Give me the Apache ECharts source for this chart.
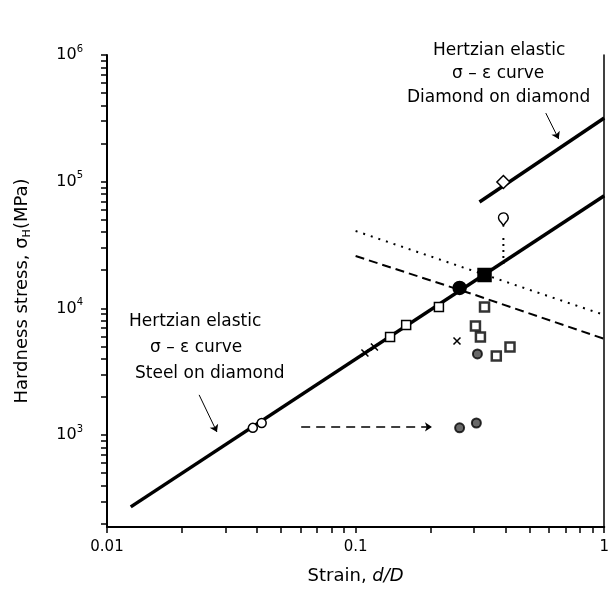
<!DOCTYPE html>
<html lang="en">
<head>
  <meta charset="UTF-8">
  <title>Hardness stress vs strain</title>
  <script src="https://cdn.jsdelivr.net/npm/echarts@6/dist/echarts.min.js"></script>
  <style>
    body { margin: 0; background: #fff; }
    #chart { width: 612px; height: 603px; }
  </style>
</head>
<body>
  <div id="chart"></div>
  <script>
    // strain d/D, hardness stress MPa
    const steelLine = [[0.01246, 271], [1, 77400]];
    const diamondLine = [[0.315, 69200], [1, 318000]];
    const dottedCurve = [[0.1, 40800], [0.306, 19400], [1, 8870]];
    const dashedCurve = [[0.1, 25900], [0.301, 12800], [1, 5740]];
    const openCircles = [[0.0386, 1140], [0.0419, 1245]];
    const openSquares = [[0.1376, 5950], [0.1597, 7400], [0.2163, 10260]];
    const crosses = [[0.109, 4450], [0.119, 4960], [0.2557, 5530]];
    const boxSquares = [[0.330, 10260], [0.3034, 7260], [0.3177, 5950], [0.4178, 4960], [0.368, 4210]];
    const darkCircles = [[0.309, 4370], [0.262, 1140], [0.306, 1245]];
    const filledCircle = [[0.262, 14500]];
    const filledSquare = [[0.330, 18350]];
    const openDiamond = [[0.393, 99500]];
    const openPin = [[0.393, 44000]];
    const pinDrop = [[0.393, 36000], [0.393, 22000]];

    const xLabels = [0.01, 0.1, 1];
    const yLabels = [1e3, 1e4, 1e5, 1e6];
    const steps = [1, 2, 3, 4, 5, 6, 7, 8, 9];

    // arrows: [from, to]
    const arrowDiamond = [[0.582, 348000], [0.656, 217000]];
    const arrowSteel = [[0.02347, 2075], [0.02768, 1057]];
    const arrowDashed = [[0.0604, 1159], [0.2028, 1159]];

    const font = 'DejaVu Sans';

    let xTicks = [];
    [0.01, 0.1].forEach(d => steps.forEach(s => xTicks.push(d * s)));
    xTicks.push(1);
    let yTicks = [];
    [100, 1e3, 1e4, 1e5].forEach(d => steps.forEach(s => { if (d * s >= 188) yTicks.push(d * s); }));
    yTicks.push(1e6);

    let myChart = echarts.init(document.getElementById('chart'));

    function scatter(data, symbol, size, fill, extra) {
      return Object.assign({
        type: 'scatter',
        data: data,
        symbol: symbol,
        symbolSize: size,
        itemStyle: { color: fill, borderColor: '#000', borderWidth: 1.5, opacity: 1 },
        z: 5
      }, extra || {});
    }

    function plain(data, width, type) {
      return {
        type: 'line',
        data: data,
        showSymbol: false,
        symbol: 'none',
        lineStyle: { color: '#000', width: width, type: type },
        z: 3
      };
    }

    let option = {
      animation: false,
      grid: { left: 107, right: 4, top: 55, bottom: 76 },
      xAxis: {
        type: 'log',
        min: 0.01,
        max: 1,
        axisLine: { lineStyle: { color: '#000', width: 2 } },
        axisTick: { customValues: xTicks, length: 6, lineStyle: { color: '#000', width: 1.5 } },
        axisLabel: {
          customValues: xLabels,
          formatter: v => String(v),
          color: '#000',
          fontFamily: font,
          fontSize: 15,
          margin: 13
        },
        splitLine: { show: false },
        name: '{n|Strain, }{i|d/D}',
        nameLocation: 'middle',
        nameGap: 40,
        nameTextStyle: {
          rich: {
            n: { fontFamily: font, fontSize: 18, color: '#000' },
            i: { fontFamily: font, fontSize: 18, color: '#000', fontStyle: 'italic' }
          }
        }
      },
      yAxis: [{
        type: 'log',
        min: 188,
        max: 1e6,
        axisLine: { lineStyle: { color: '#000', width: 2 } },
        axisTick: { customValues: yTicks, length: 6, lineStyle: { color: '#000', width: 1.5 } },
        axisLabel: {
          customValues: yLabels,
          formatter: v => '{b|10}{e|' + Math.round(Math.log10(v)) + '}',
          margin: 24,
          rich: {
            b: { fontFamily: font, fontSize: 16, color: '#000' },
            e: { fontFamily: font, fontSize: 10, color: '#000', padding: [0, 0, 12, 0] }
          }
        },
        splitLine: { show: false },
        name: '{n|Hardness stress, σ}{s|H}{n|(MPa)}',
        nameLocation: 'middle',
        nameRotate: 90,
        nameGap: 74,
        nameTextStyle: {
          rich: {
            n: { fontFamily: font, fontSize: 18, color: '#000' },
            s: { fontFamily: font, fontSize: 11, color: '#000', padding: [10, 0, 0, 0] }
          }
        }
      }, {
        type: 'log',
        min: 188,
        max: 1e6,
        position: 'right',
        axisLine: { show: true, lineStyle: { color: '#000', width: 1.5 } },
        axisTick: { show: false },
        axisLabel: { show: false },
        splitLine: { show: false }
      }],
      graphic: [
        { type: 'text', left: 433, top: 42, style: { text: 'Hertzian elastic', font: '17px ' + font, fill: '#000' } },
        { type: 'text', left: 452, top: 65, style: { text: 'σ – ε curve', font: '17px ' + font, fill: '#000' } },
        { type: 'text', left: 407, top: 89, style: { text: 'Diamond on diamond', font: '17px ' + font, fill: '#000' } },
        { type: 'text', left: 129, top: 313, style: { text: 'Hertzian elastic', font: '17px ' + font, fill: '#000' } },
        { type: 'text', left: 150, top: 339, style: { text: 'σ – ε curve', font: '17px ' + font, fill: '#000' } },
        { type: 'text', left: 135, top: 365, style: { text: 'Steel on diamond', font: '17px ' + font, fill: '#000' } }
      ],
      series: [
        Object.assign(plain(steelLine, 3.5, 'solid'), {
          markLine: {
            silent: true,
            symbol: ['none', 'arrow'],
            symbolSize: 7,
            label: { show: false },
            lineStyle: { color: '#000', width: 1, type: 'solid' },
            data: [
              [{ coord: arrowDiamond[0] }, { coord: arrowDiamond[1] }],
              [{ coord: arrowSteel[0] }, { coord: arrowSteel[1] }],
              [{ coord: arrowDashed[0], lineStyle: { type: [9, 6], width: 1.5 } }, { coord: arrowDashed[1] }]
            ]
          }
        }),
        plain(diamondLine, 3.5, 'solid'),
        plain(dottedCurve, 2, [2, 6]),
        plain(dashedCurve, 2, [9, 5]),
        plain(pinDrop, 2, [2, 4]),
        scatter(openCircles, 'circle', 9, '#fff'),
        scatter(openSquares, 'rect', 9, '#fff'),
        scatter(crosses, 'path://M0,0L10,10M10,0L0,10', 7, 'none'),
        scatter(boxSquares, 'rect', 9, '#fff', { itemStyle: { color: '#fff', borderColor: '#000', borderWidth: 2.5 } }),
        scatter(darkCircles, 'circle', 9, '#444', { itemStyle: { color: '#444', borderColor: '#000', borderWidth: 2 } }),
        scatter(filledCircle, 'circle', 13, '#000'),
        scatter(filledSquare, 'rect', 13, '#000'),
        scatter(openDiamond, 'diamond', 13, '#fff'),
        scatter(openPin, 'pin', 16, '#fff')
      ]
    };

    myChart.setOption(option);
  </script>
</body>
</html>
